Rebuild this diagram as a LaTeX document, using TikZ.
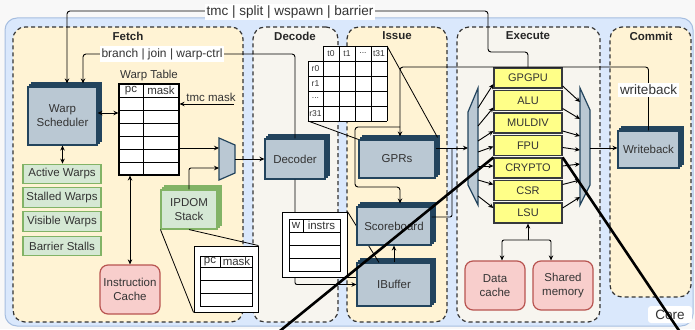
\documentclass[tikz,border=0pt]{standalone}
\usepackage{fontspec}
\setmainfont{Liberation Sans}
\usetikzlibrary{arrows.meta,positioning,calc,shadows}
\definecolor{PageGray}{HTML}{F8F8F8}
\definecolor{CoreBlue}{HTML}{DAE8FC}
\definecolor{CoreLine}{HTML}{A6BEE0}
\definecolor{StageGold}{HTML}{FFF3D4}
\definecolor{StageGray}{HTML}{F7F5EF}
\definecolor{StackFill}{HTML}{BAC8D3}
\definecolor{StackLine}{HTML}{23445D}
\definecolor{SoftGreen}{HTML}{D5E8D4}
\definecolor{GreenLine}{HTML}{82B366}
\definecolor{SoftRed}{HTML}{F8CECC}
\definecolor{RedLine}{HTML}{B85450}
\definecolor{UnitYellow}{HTML}{FFFF88}
\definecolor{UnitLine}{HTML}{36393D}
\definecolor{DarkGray}{HTML}{333333}
\newcommand\diagfont{\fontsize{11.5}{14}\selectfont}
\newcommand\bigdiagfont{\fontsize{13.5}{16}\selectfont}
\newcommand\cellfont{\fontsize{8.5}{10}\selectfont}
\newcommand\celldots{...}
\tikzset{
  stage/.style={draw=DarkGray, line width=1.2pt, dash pattern=on 4pt off 3pt, rounded corners=12pt},
  stagetitle/.style={font=\diagfont\bfseries, text=black!85},
  stackbox/.style={fill=StackFill, draw=StackLine, line width=1.1pt,
    general shadow={shadow xshift=4pt, shadow yshift=4pt, fill=StackFill, draw=StackLine, line width=1.1pt},
    general shadow={shadow xshift=2pt, shadow yshift=2pt, fill=StackFill, draw=StackLine, line width=1.1pt}},
  greenstack/.style={fill=SoftGreen, draw=GreenLine, line width=1.1pt,
    general shadow={shadow xshift=4pt, shadow yshift=4pt, fill=SoftGreen, draw=GreenLine, line width=1.1pt},
    general shadow={shadow xshift=2pt, shadow yshift=2pt, fill=SoftGreen, draw=GreenLine, line width=1.1pt}},
  greenbox/.style={fill=SoftGreen, draw=GreenLine, line width=1.2pt, minimum width=78pt, minimum height=19.5pt},
  redbox/.style={fill=SoftRed, draw=RedLine, line width=1.2pt, rounded corners=8pt, minimum width=60pt, minimum height=49pt},
  unitbox/.style={fill=UnitYellow, draw=UnitLine, line width=1.2pt, minimum width=68pt, minimum height=20pt, font=\fontsize{11}{13}\selectfont},
  muxshape/.style={fill=StackFill, draw=StackLine, line width=1.2pt},
  framebox/.style={draw=black, fill=white, line width=0.9pt},
  tabline/.style={draw=black, line width=0.9pt},
  wire/.style={draw=black, line width=0.9pt},
  arr/.style={wire, -{Stealth[length=5pt,width=4.5pt]}},
  dblarr/.style={wire, {Stealth[length=5pt,width=4.5pt]}-{Stealth[length=5pt,width=4.5pt]}},
  zoomline/.style={draw=black, line width=0.8pt},
  whitelabel/.style={fill=white, inner sep=2pt},
  bigline/.style={draw=black, line width=2.6pt}
}
\begin{document}
\begin{tikzpicture}[x=1pt, y=-1pt, every node/.style={font=\diagfont, align=center, text=DarkGray, inner sep=0pt}]
  \clip (0,0) rectangle (695,329);
  \fill[PageGray] (0,0) rectangle (695,329);
  % core and stages
  \node[fill=CoreBlue, draw=CoreLine, line width=1pt, rounded corners=12pt, minimum width=688pt, minimum height=308pt] (core) at (349,172) {};
  \node[stage, fill=StageGold, minimum width=230pt, minimum height=295pt] (fetch) at (128,174.5) {};
  \node[stage, fill=StageGray, minimum width=85pt, minimum height=295pt] (decode) at (295.5,174.5) {};
  \node[stage, fill=StageGold, minimum width=100pt, minimum height=295pt] (issue) at (397,174.5) {};
  \node[stage, fill=StageGray, minimum width=143pt, minimum height=295pt] (execute) at (528.5,174.5) {};
  \node[stage, fill=StageGold, minimum width=81pt, minimum height=270pt] (commit) at (650.5,162) {};
  \node[stagetitle] (fetchT) at (128,36) {Fetch};
  \node[stagetitle] (decodeT) at (295,36) {Decode};
  \node[stagetitle] (issueT) at (397,36) {Issue};
  \node[stagetitle] (executeT) at (528,36) {Execute};
  \node[stagetitle] (commitT) at (651,36) {Commit};
  \node[fill=white, rounded corners=3pt, minimum width=44pt, minimum height=17pt, font=\bigdiagfont] (corelbl) at (670,314.5) {Core};

  % fetch
  \node[stackbox, minimum width=69pt, minimum height=58pt] (sched) at (62.5,116) {Warp\\Scheduler};
  \node[framebox, line width=1.1pt, minimum width=60pt, minimum height=91pt] (warptab) at (149,129.5) {};
  \foreach \y in {97,110,...,162} \draw[tabline] (119,\y) -- (179,\y);
  \draw[tabline] (143,84) -- (143,175);
  \node (wtpc) at (131,90.5) {pc};
  \node (wtmask) at (161,90.5) {mask};
  \node (wtlabel) at (149,76) {Warp Table};
  \node (tmcmask) at (211,97) {tmc mask};
  \coordinate (tmcin) at (234,104);
  \draw[arr] (tmcin) -- (tmcin -| warptab.east);
  \draw[dblarr] (sched.east |- 0,113) -- (warptab.west |- 0,113);
  \node[greenbox] (active) at (62,174) {Active Warps};
  \node[greenbox] (stalled) at (62,197.5) {Stalled Warps};
  \node[greenbox] (visible) at (62,221.5) {Visible Warps};
  \node[greenbox] (barrier) at (62,246) {Barrier Stalls};
  \draw[dblarr] (sched.south) -- (sched.south |- active.north);
  \node[redbox] (icache) at (130,289.5) {Instruction\\Cache};
  \draw[dblarr] (icache.north |- warptab.south) -- (icache.north);
  \node[greenstack, minimum width=56pt, minimum height=39pt] (ipdom) at (189,209.5) {IPDOM\\Stack};
  \draw[muxshape] (219,138) -- (235,145) -- (235,173) -- (219,180) -- cycle;
  \coordinate (muxout) at (235,159);
  \coordinate (muxin1) at (219,148);
  \coordinate (muxin2) at (219,168);
  \draw[arr] (warptab.east |- muxin1) -- (muxin1);
  \draw[arr, rounded corners=2pt] (ipdom.north) |- (muxin2);
  % ipdom table
  \node[framebox, minimum width=64pt, minimum height=66pt] (ipdomtab) at (226,279) {};
  \draw[tabline] (200,256) rectangle (252,306);
  \foreach \y in {267,280,293} \draw[tabline] (200,\y) -- (252,\y);
  \draw[tabline] (220,256) -- (220,267);
  \node (ippc) at (210,261.5) {pc};
  \node (ipmask) at (236.5,261.5) {mask};
  \draw[zoomline] (ipdom.south west) -- (ipdomtab.south west);
  \draw[zoomline] (ipdom.south) -- (ipdomtab.north east);

  % decode
  \node[stackbox, minimum width=60pt, minimum height=40pt] (decoder) at (295,159) {Decoder};
  \draw[arr] (muxout) -- (decoder.west);
  \node[stackbox, minimum width=74pt, minimum height=43pt] (ibuf) at (394,284.5) {IBuffer};
  \draw[arr, rounded corners=2pt] (decoder.south) |- (ibuf.west);
  \node[framebox, minimum width=65pt, minimum height=65pt] (instrtab) at (314.5,244.5) {};
  \draw[tabline] (289,219) rectangle (340,271);
  \foreach \y in {232,245,258} \draw[tabline] (289,\y) -- (340,\y);
  \draw[tabline] (303,219) -- (303,232);
  \node (insw) at (296,225.5) {w};
  \node (insinstrs) at (321.5,225.5) {instrs};
  \draw[zoomline] (instrtab.north east) -- ($(ibuf.north west)!0.3!(ibuf.north east)$);
  \draw[zoomline] (instrtab.south east) -- (instrtab.south east -| ibuf.west);

  % issue
  \node[stackbox, minimum width=74pt, minimum height=38pt] (sb) at (394,226) {Scoreboard};
  \draw[arr] (ibuf.north) -- (sb.south);
  \fill[white] (323,46) rectangle (387,121);
  \fill[white] (308,61) rectangle (323,121);
  \foreach \x in {323,339,355,371,387} \draw[tabline] (\x,46) -- (\x,121);
  \foreach \y in {46,61,...,121} \draw[tabline] (323,\y) -- (387,\y);
  \draw[tabline] (308,61) rectangle (323,121);
  \foreach \y in {76,91,106} \draw[tabline] (308,\y) -- (323,\y);
  \foreach \lab [count=\i from 0] in {t0,t1,\celldots,t31}
    \node[font=\cellfont] (gt\i) at (331+16*\i,53.5) {\lab};
  \foreach \lab [count=\i from 0] in {r0,r1,\celldots,r31}
    \node[font=\cellfont] (gr\i) at (315.5,68.5+15*\i) {\lab};
  \coordinate (gprne) at (387,46);
  \coordinate (gprsw) at (308,121);
  \node[stackbox, minimum width=76pt, minimum height=38pt] (gprs) at (397,159) {GPRs};
  \draw[zoomline] (gprne) -- ($(gprs.north east)+(2,-2)$);
  \draw[zoomline] (gprsw) -- (gprs.north west);

  % execute
  \foreach \u/\t/\y in {gpgpu/GPGPU/78, alu/ALU/100.5, muldiv/MULDIV/123, fpu/FPU/145.5, crypto/CRYPTO/168, csr/CSR/190.5, lsu/LSU/213}
    \node[unitbox] (\u) at (528,\y) {\t};
  \draw[muxshape] (478,88) -- (478,205) -- (468,185) -- (468,112) -- cycle;
  \draw[muxshape] (580,88) -- (590,110) -- (590,185) -- (580,205) -- cycle;
  \coordinate (dispR) at (478,0);
  \coordinate (collL) at (580,0);
  \foreach \u/\s/\e in {gpgpu/108/6, alu/126/7, muldiv/141/8, fpu/152/1, crypto/166/-2, csr/180/-6, lsu/196/-5}
    \draw[arr] ($(dispR)+(0,\s)$) -- ($(\u.west)+(0,\e)$);
  \foreach \u/\s/\e in {gpgpu/8/102, alu/8/119, muldiv/8/136, fpu/2/150, crypto/-2/164, csr/-6/180, lsu/-5/197}
    \draw[arr] ($(\u.east)+(0,\s)$) -- ($(collL)+(0,\e)$);
  \coordinate (dispin) at (468,148);
  \coordinate (dispjoin) at (452,148);
  \draw[arr] (gprs.east |- dispin) -- (dispin);
  \draw[wire, rounded corners=2pt] ($(sb.east)+(0,-9)$) -| (dispjoin);
  \node[redbox] (dcache) at (495,285.5) {Data\\cache};
  \node[redbox] (smem) at (563,285.5) {Shared\\memory};
  \coordinate (lsujoin) at (528,240);
  \draw[arr] (lsujoin) -- (lsu.south);
  \draw[arr, rounded corners=2pt] (lsujoin) -| ($(dcache.north)+(7,0)$);
  \draw[arr, rounded corners=2pt] (lsujoin) -| ($(smem.north)+(-12,0)$);

  % commit
  \node[stackbox, minimum width=61pt, minimum height=37pt] (wb) at (648.5,149.5) {Writeback};
  \coordinate (collout) at (590,148);
  \draw[arr] (collout) -- (collout -| wb.west);
  \coordinate (wbtop) at (400,67);
  \coordinate (wbsplit) at (400,127);
  \coordinate (sbbend) at (355,187);
  \draw[arr, rounded corners=3pt] (wb.north) |- (wbtop) -- ($(wbtop |- gprs.north)+(0,-3)$);
  \draw[arr, rounded corners=3pt] (wbsplit) -| (sbbend) -| ($(sb.north -| wbsplit)+(0,-3)$);
  \node[whitelabel, font=\bigdiagfont] (wblabel) at (wb.north |- 0,90) {writeback};

  % control lines
  \coordinate (gpbend1) at (488,11);
  \coordinate (gpbend2) at (488,52);
  \draw[arr, rounded corners=3pt] (gpgpu.north) |- (gpbend2) -- (gpbend1) -| ($(sched.north)+(4.5,-3)$);
  \node[whitelabel, font=\bigdiagfont] (ctrllbl) at (290,12) {tmc | split | wspawn | barrier};
  \coordinate (brcorner) at (83,54);
  \draw[arr, rounded corners=3pt] (decoder.north) |- (brcorner) -- ($(brcorner |- sched.north)+(0,-3)$);
  \node[whitelabel, font=\fontsize{12}{14}\selectfont] (brlbl) at (162,54) {branch | join | warp-ctrl};

  % zoom lines of the figure
  \coordinate (zoomA) at (270,339);
  \coordinate (zoomB) at (686,341);
  \draw[bigline] (crypto.north west) -- (zoomA);
  \draw[bigline] (crypto.north east) -- (zoomB);
\end{tikzpicture}
\end{document}
